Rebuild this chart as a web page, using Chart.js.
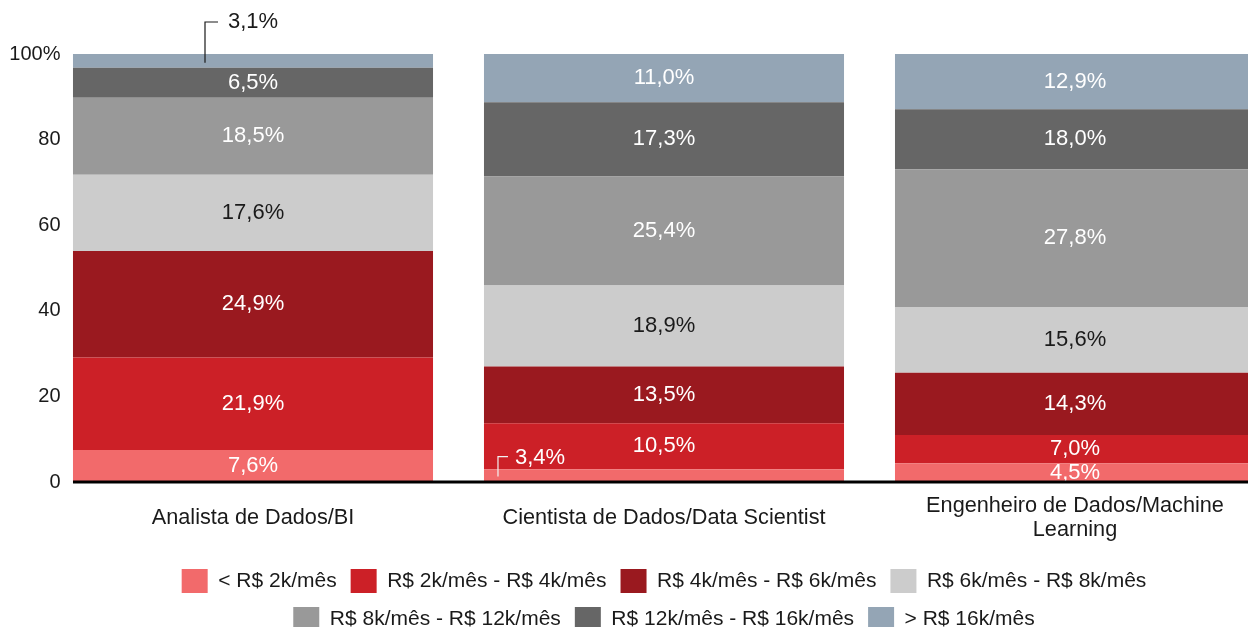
<!DOCTYPE html>
<html>
<head>
<meta charset="utf-8">
<script src="https://cdn.jsdelivr.net/npm/chart.js@4.4.1/dist/chart.umd.min.js"></script>
<style>
  html, body { margin: 0; padding: 0; overflow: hidden; background: #fff; }
  #wrap { width: 1248px; height: 627px; overflow: hidden; position: relative; }
  #chart { position: absolute; left: 0; top: 0; }
</style>
</head>
<body>
<div id="wrap"><canvas id="chart" width="1328" height="641"></canvas></div>
<script>
// categories (cargos)
const cargos = [
    'Analista de Dados/BI',
    'Cientista de Dados/Data Scientist',
    ['Engenheiro de Dados/Machine', 'Learning']
];

// faixas salariais
const faixas = [
    '< R$ 2k/mês',
    'R$ 2k/mês - R$ 4k/mês',
    'R$ 4k/mês - R$ 6k/mês',
    'R$ 6k/mês - R$ 8k/mês',
    'R$ 8k/mês - R$ 12k/mês',
    'R$ 12k/mês - R$ 16k/mês',
    '> R$ 16k/mês'
];

// segment heights as drawn (% of bar), in order of cargos
const ate2k     = [7.5, 3.0, 4.4];
const de2a4k    = [21.6, 10.7, 6.6];
const de4a6k    = [24.9, 13.3, 14.5];
const de6a8k    = [17.8, 18.9, 15.4];
const de8a12k   = [18.0, 25.5, 32.2];
const de12a16k  = [7.0, 17.3, 14.0];
const acima16k  = [3.2, 11.3, 12.9];

// percentages printed on the segments
const rotAte2k    = [7.6, 3.4, 4.5];
const rotDe2a4k   = [21.9, 10.5, 7.0];
const rotDe4a6k   = [24.9, 13.5, 14.3];
const rotDe6a8k   = [17.6, 18.9, 15.6];
const rotDe8a12k  = [18.5, 25.4, 27.8];
const rotDe12a16k = [6.5, 17.3, 18.0];
const rotAcima16k = [3.1, 11.0, 12.9];

const yTicks = [0, 20, 40, 60, 80, 100];

const cores = ['#F26A6B', '#CC2027', '#9A191F', '#CCCCCC', '#999999', '#666666', '#94A5B5'];
const series = [ate2k, de2a4k, de4a6k, de6a8k, de8a12k, de12a16k, acima16k];
const rotulos = [rotAte2k, rotDe2a4k, rotDe4a6k, rotDe6a8k, rotDe8a12k, rotDe12a16k, rotAcima16k];

const FAMILY = '"Liberation Sans", Arial, sans-serif';
Chart.defaults.font.family = FAMILY;
Chart.defaults.color = '#1a1a1a';

function fmt(v) {
    return v.toFixed(1).replace('.', ',') + '%';
}

// y labels are mirrored so they can sit right-aligned just left of the first bar
const tickSize = 20;
const measure = document.createElement('canvas').getContext('2d');
measure.font = tickSize + 'px ' + FAMILY;
const widest = measure.measureText('100%').width;
const yPad = 60.5 - 47.5 - widest;

// labels inside segments, plus the two small ones with a leader line
const segmentLabels = {
    id: 'segmentLabels',
    afterDatasetsDraw(chart) {
        const ctx = chart.ctx;
        const area = chart.chartArea;
        ctx.save();
        ctx.font = '22px ' + FAMILY;
        ctx.textBaseline = 'middle';
        chart.data.datasets.forEach((ds, di) => {
            const meta = chart.getDatasetMeta(di);
            meta.data.forEach((el, i) => {
                const yMid = (el.y + el.base) / 2;
                const txt = fmt(rotulos[di][i]);
                if (di === 6 && i === 0) {
                    // small top segment: label above the bar
                    const lx = el.x - 48;
                    const ty = area.top - 32;
                    ctx.strokeStyle = '#1a1a1a';
                    ctx.lineWidth = 1.2;
                    ctx.beginPath();
                    ctx.moveTo(lx, yMid + 2);
                    ctx.lineTo(lx, ty);
                    ctx.lineTo(lx + 13, ty);
                    ctx.stroke();
                    ctx.fillStyle = '#1a1a1a';
                    ctx.textAlign = 'left';
                    ctx.fillText(txt, lx + 23, ty);
                    return;
                }
                if (di === 0 && i === 1) {
                    // small bottom segment: label pulled up into the next one
                    const lx = el.x - el.width / 2 + 14;
                    const ty = yMid - 19;
                    ctx.strokeStyle = '#f2f2f2';
                    ctx.lineWidth = 1.2;
                    ctx.beginPath();
                    ctx.moveTo(lx, yMid + 1);
                    ctx.lineTo(lx, ty);
                    ctx.lineTo(lx + 10, ty);
                    ctx.stroke();
                    ctx.fillStyle = '#ffffff';
                    ctx.textAlign = 'left';
                    ctx.fillText(txt, lx + 17, ty + 1);
                    return;
                }
                ctx.fillStyle = di === 3 ? '#1a1a1a' : '#ffffff';
                ctx.textAlign = 'center';
                ctx.fillText(txt, el.x, yMid);
            });
        });
        // base line from first bar to the right edge
        const first = chart.getDatasetMeta(0).data[0];
        const y0 = chart.scales.y.getPixelForValue(0);
        ctx.strokeStyle = '#000000';
        ctx.lineWidth = 3;
        ctx.beginPath();
        ctx.moveTo(first.x - first.width / 2, y0);
        ctx.lineTo(chart.width, y0);
        ctx.stroke();
        ctx.restore();
    }
};

const ctx = document.getElementById('chart').getContext('2d');
new Chart(ctx, {
    type: 'bar',
    data: {
        labels: cargos,
        datasets: faixas.map((nome, k) => ({
            label: nome,
            data: series[k],
            backgroundColor: cores[k],
            borderWidth: 0,
            categoryPercentage: 1,
            barPercentage: 0.876
        }))
    },
    options: {
        responsive: false,
        animation: false,
        layout: { padding: { left: 47.5, right: 47.5, top: 54, bottom: 0 } },
        plugins: {
            legend: {
                position: 'bottom',
                labels: {
                    boxWidth: 26,
                    boxHeight: 24,
                    padding: 14,
                    color: '#1a1a1a',
                    font: { size: 21 }
                }
            },
            tooltip: { enabled: false }
        },
        scales: {
            x: {
                stacked: true,
                grid: { display: false, drawTicks: false },
                border: { display: false },
                ticks: {
                    autoSkip: false,
                    maxRotation: 0,
                    padding: 24,
                    crossAlign: 'center',
                    color: '#1a1a1a',
                    font: { size: 21.7, lineHeight: 24 / 21.7 }
                },
                afterFit(scale) { scale.height = 73; }
            },
            y: {
                stacked: true,
                min: 0,
                max: 100,
                grid: { display: false, drawTicks: false },
                border: { display: false },
                afterBuildTicks(scale) {
                    scale.ticks = yTicks.map(v => ({ value: v }));
                },
                ticks: {
                    mirror: true,
                    crossAlign: 'far',
                    padding: yPad,
                    color: '#1a1a1a',
                    font: { size: tickSize },
                    callback: v => (v === 100 ? '100%' : v)
                },
                afterFit(scale) { scale.width = 0; }
            }
        }
    },
    plugins: [segmentLabels]
});
</script>
</body>
</html>
